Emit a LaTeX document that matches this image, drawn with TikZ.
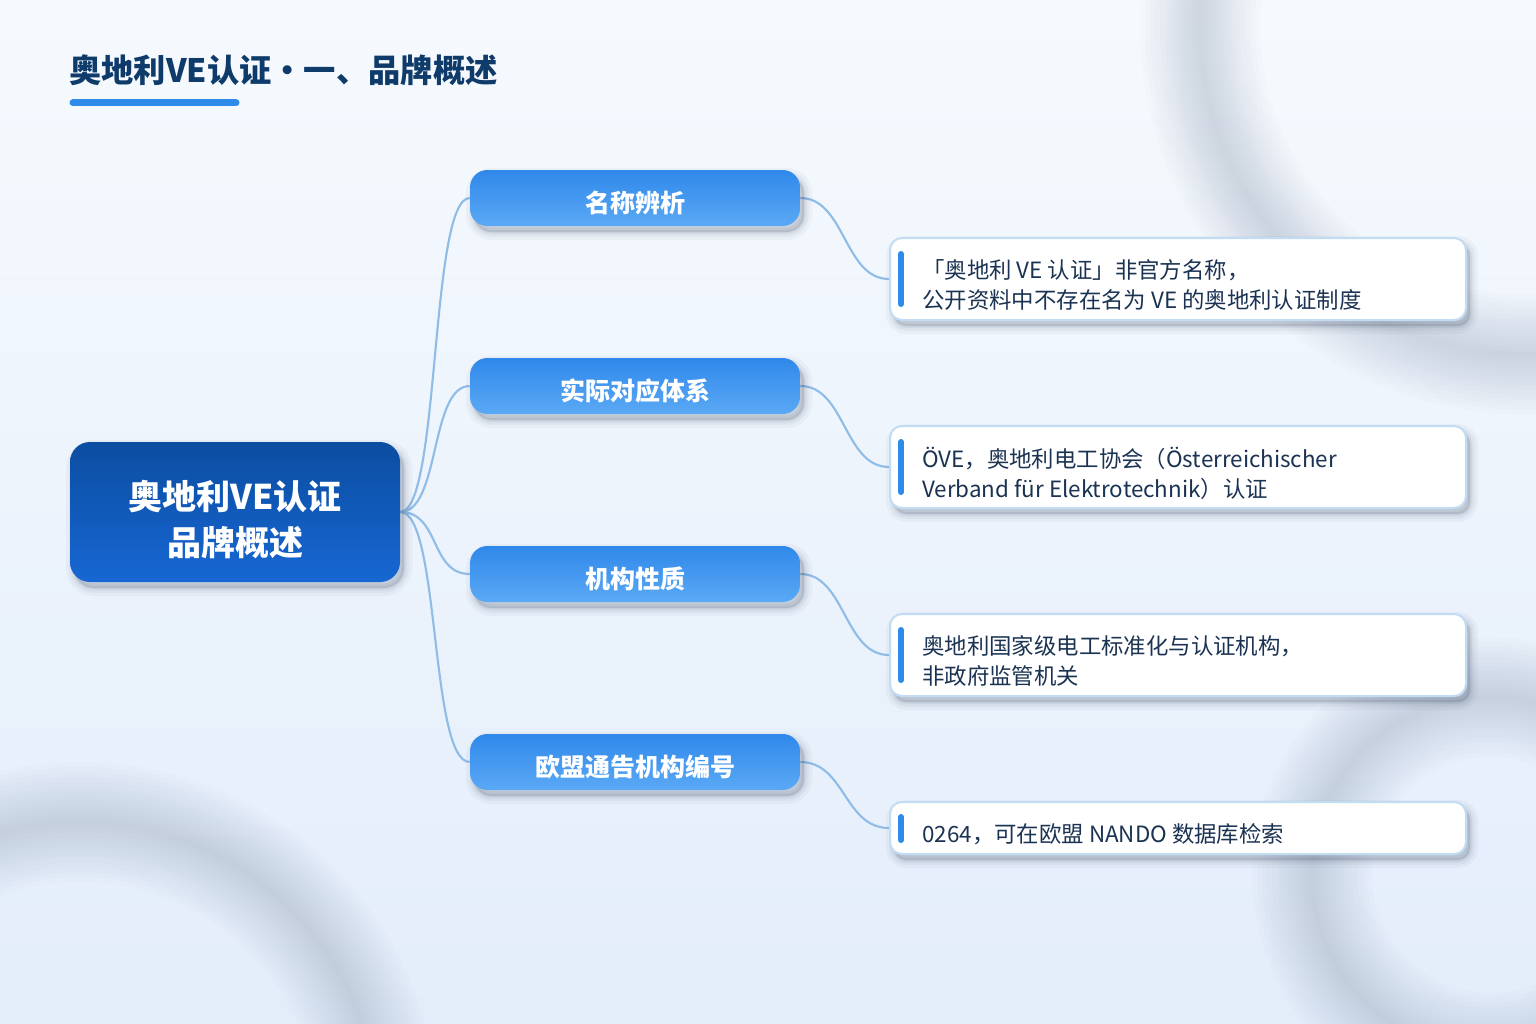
\documentclass[tikz,border=0pt]{standalone}
\usepackage{fontspec}
\setmainfont{Noto Sans CJK SC}
\definecolor{bgtop}{HTML}{F6FAFE}
\definecolor{bgbot}{HTML}{E3EDFA}
\definecolor{ringc}{HTML}{8E9CB0}
\definecolor{titleblue}{HTML}{0F3B6B}
\definecolor{accent}{HTML}{2E8BEA}
\definecolor{roottop}{HTML}{0B4DA1}
\definecolor{rootbot}{HTML}{1767D3}
\definecolor{brtop}{HTML}{2F88EA}
\definecolor{brbot}{HTML}{5BA9F5}
\definecolor{conn}{HTML}{90BDE8}
\definecolor{leafborder}{HTML}{C2DCF4}
\definecolor{leaftext}{HTML}{1B3352}
\definecolor{shadowc}{HTML}{2A3A55}
\pgfdeclarelayer{bg}
\pgfsetlayers{bg,main}
\begin{document}
\begin{tikzpicture}[x=0.75pt,y=-0.75pt,
  softshadow/.style={
    preaction={draw=shadowc, fill=shadowc, line width=12pt, draw opacity=0.04, fill opacity=0.04, transform canvas={xshift=3pt,yshift=-4.5pt}},
    preaction={draw=shadowc, fill=shadowc, line width=7pt, draw opacity=0.055, fill opacity=0.055, transform canvas={xshift=3pt,yshift=-4.5pt}},
    preaction={draw=shadowc, fill=shadowc, line width=3pt, draw opacity=0.075, fill opacity=0.075, transform canvas={xshift=3pt,yshift=-4.5pt}}},
  rootbox/.style={softshadow, rounded corners=15pt, minimum width=247.5pt, minimum height=105pt, inner sep=0pt,
    top color=roottop, bottom color=rootbot, draw=none},
  roottxt/.style={text=white, align=center, inner sep=0pt, font=\bfseries\fontsize{25.5}{34.5}\selectfont},
  branchbox/.style={softshadow, rounded corners=13pt, minimum width=247.5pt, minimum height=42pt, inner sep=0pt,
    top color=brtop, bottom color=brbot, draw=none},
  brtxt/.style={text=white, inner sep=0pt, font=\bfseries\fontsize{18.75}{22}\selectfont},
  leafbox/.style={softshadow, rounded corners=9pt, minimum width=432pt, inner sep=0pt, fill=white,
    draw=leafborder, line width=1.5pt},
  leaftxt/.style={anchor=west, align=left, inner sep=0pt, text=leaftext,
    font=\fontsize{16.8}{22.5}\selectfont},
  accentbar/.style={draw=accent, line width=4.5pt, line cap=round},
  connector/.style={draw=conn, line width=1.6pt},
  ring/.style={draw=ringc}
]
\useasboundingbox (0,0) rectangle (1536,1024);

\begin{pgfonlayer}{bg}
  \shade[top color=bgtop, bottom color=bgbot] (0,0) rectangle (1536,1024);
  \begin{scope}
    \clip (0,0) rectangle (1536,1024);
    \foreach \w in {120,110,100,90,80,70,62,54,46,38,30,22,14,6}{
      \draw[ring, line width=\w*0.75pt, opacity=0.026] (1530,25) circle[radius=330];
      \draw[ring, line width=\w*0.75pt, opacity=0.026] (80,1120) circle[radius=298];
      \draw[ring, line width=\w*0.75pt, opacity=0.026] (1490,875) circle[radius=178];
    }
  \end{scope}
\end{pgfonlayer}

% title
\node[anchor=west, inner sep=0pt, text=titleblue, font=\bfseries\fontsize{24.2}{28}\selectfont]
  (title) at (69,70) {奥地利VE认证・一、品牌概述};
\draw[accent, line width=5.25pt, line cap=round] (73,103) -- (236,103);

% root
\node[rootbox] (root) at (235,512) {};
\node[roottxt] (roott) at (235,520) {奥地利VE认证\\品牌概述};

% branches
\node[branchbox] (b1) at (635,198) {};
\node[branchbox] (b2) at (635,386) {};
\node[branchbox] (b3) at (635,574) {};
\node[branchbox] (b4) at (635,762) {};
\node[brtxt] (b1t) at (635,203) {名称辨析};
\node[brtxt] (b2t) at (635,391) {实际对应体系};
\node[brtxt] (b3t) at (635,579) {机构性质};
\node[brtxt] (b4t) at (635,767) {欧盟通告机构编号};

% leaves
\node[leafbox, minimum height=61.5pt] (l1) at (1178,279) {};
\node[leafbox, minimum height=61.5pt] (l2) at (1178,467) {};
\node[leafbox, minimum height=61.5pt] (l3) at (1178,655) {};
\node[leafbox, minimum height=39pt] (l4) at (1178,828) {};

\draw[accentbar] (901,254) -- (901,304);
\draw[accentbar] (901,442) -- (901,492);
\draw[accentbar] (901,630) -- (901,680);
\draw[accentbar] (901,817) -- (901,840);

\node[leaftxt] (t1) at (922,285) {「奥地利 VE 认证」非官方名称，\\公开资料中不存在名为 VE 的奥地利认证制度};
\node[leaftxt] (t2) at (922,473) {ÖVE，奥地利电工协会（Österreichischer\\Verband für Elektrotechnik）认证};
\node[leaftxt] (t3) at (922,661) {奥地利国家级电工标准化与认证机构，\\非政府监管机关};
\node[leaftxt] (t4) at (922,834) {0264，可在欧盟 NANDO 数据库检索};

% connectors
\begin{pgfonlayer}{bg}
  \foreach \b in {b1,b2,b3,b4}{
    \draw[connector] (root.east) .. controls +(40,0) and +(-40,0) .. (\b.west);
  }
  \draw[connector] (b1.east) .. controls +(45,0) and +(-45,0) .. (l1.west);
  \draw[connector] (b2.east) .. controls +(45,0) and +(-45,0) .. (l2.west);
  \draw[connector] (b3.east) .. controls +(45,0) and +(-45,0) .. (l3.west);
  \draw[connector] (b4.east) .. controls +(45,0) and +(-45,0) .. (l4.west);
\end{pgfonlayer}
\end{tikzpicture}
\end{document}
